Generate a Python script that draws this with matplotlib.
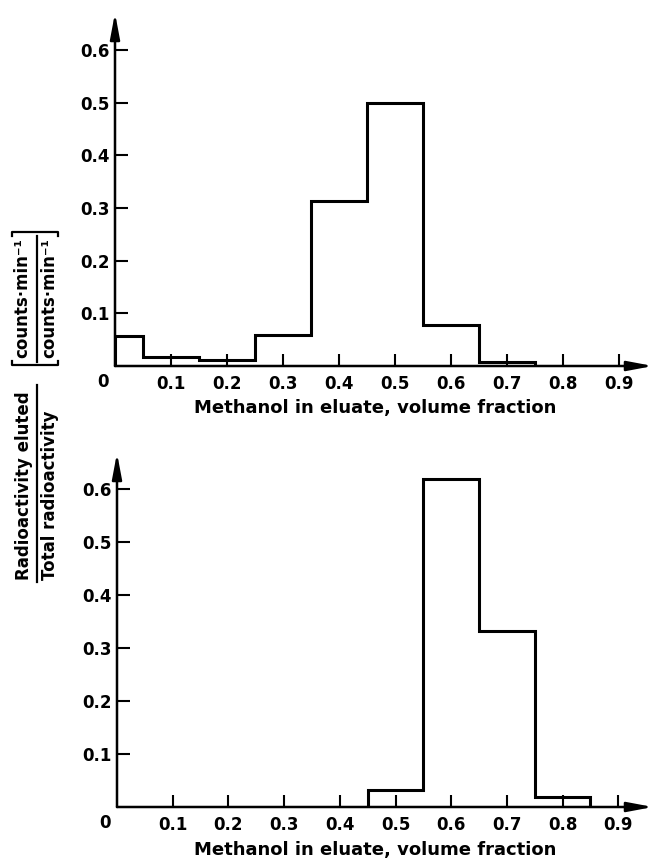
import matplotlib
matplotlib.use("Agg")
import matplotlib.pyplot as plt
from matplotlib.lines import Line2D

# ---- data ----
top_edges = [0.0, 0.05, 0.15, 0.25, 0.35, 0.45, 0.55, 0.65, 0.75]
top_values = [0.057, 0.018, 0.012, 0.058, 0.313, 0.500, 0.077, 0.007]

bot_edges = [0.45, 0.55, 0.65, 0.75, 0.85]
bot_values = [0.032, 0.618, 0.333, 0.019]

x_ticks = [0.1, 0.2, 0.3, 0.4, 0.5, 0.6, 0.7, 0.8, 0.9]
x_tick_labels = ["0.1", "0.2", "0.3", "0.4", "0.5", "0.6", "0.7", "0.8", "0.9"]
y_ticks = [0.1, 0.2, 0.3, 0.4, 0.5, 0.6]
y_tick_labels = ["0.1", "0.2", "0.3", "0.4", "0.5", "0.6"]

x_label = "Methanol in eluate, volume fraction"
y_num = "Radioactivity eluted"
y_den = "Total radioactivity"
unit = "counts·min⁻¹"

W, H = 654, 858
plt.rcParams['font.family'] = ['DejaVu Sans']
plt.rcParams['font.weight'] = 'bold'
fig = plt.figure(figsize=(W / 100, H / 100), dpi=100)

def fx(px):
    return px / W

def fy(py):
    return 1 - py / H

TICK_FS = 12

def make_axes(left, right, top, bottom, xmax, ymax):
    ax = fig.add_axes([fx(left), fy(bottom), (right - left) / W, (bottom - top) / H])
    ax.set_xlim(0, xmax)
    ax.set_ylim(0, ymax)
    for s in ax.spines.values():
        s.set_visible(False)
    ax.set_xticks(x_ticks)
    ax.set_xticklabels(x_tick_labels)
    ax.set_yticks(y_ticks)
    ax.set_yticklabels(y_tick_labels)
    ax.tick_params(axis='x', direction='in', length=8.5, width=1.5, pad=6.5,
                   labelsize=TICK_FS)
    ax.tick_params(axis='y', direction='in', length=9.5, width=1.5, pad=4,
                   labelsize=TICK_FS)
    for lab in ax.get_xticklabels() + ax.get_yticklabels():
        lab.set_fontweight('bold')
    arrow = dict(arrowstyle='-|>,head_length=0.85,head_width=0.16', lw=1.8,
                 color='k', mutation_scale=18, shrinkA=0, shrinkB=0)
    ax.annotate('', xy=(1, 0), xytext=(0, 0), xycoords='axes fraction',
                arrowprops=arrow, annotation_clip=False)
    ax.annotate('', xy=(0, 1), xytext=(0, 0), xycoords='axes fraction',
                arrowprops=arrow, annotation_clip=False)
    ax.annotate('0', xy=(0, 0), xycoords='data', xytext=(-8.5, -11.5),
                textcoords='offset points', ha='center', va='center',
                fontsize=TICK_FS, fontweight='bold', annotation_clip=False)
    return ax

ax1 = make_axes(115, 653, 13, 366, 538 / 560, 353 / 527)
ax1.stairs(top_values, top_edges, baseline=0, color='k', lw=2.2)

ax2 = make_axes(117, 653, 453, 807, 536 / 557, 354 / 530)
ax2.stairs(bot_values, bot_edges, baseline=0, color='k', lw=2.2)

fig.text(fx(375), fy(408), x_label, ha='center', va='center', fontsize=13,
         fontweight='bold')
fig.text(fx(375), fy(850), x_label, ha='center', va='center', fontsize=13,
         fontweight='bold')

# ---- y label: fraction ----
fs = 12
fig.text(fx(24), fy(580), y_num, rotation=90, rotation_mode='anchor',
         ha='left', va='center', fontsize=fs, fontweight='bold')
fig.text(fx(50), fy(580), y_den, rotation=90, rotation_mode='anchor',
         ha='left', va='center', fontsize=fs, fontweight='bold')
fig.add_artist(Line2D([fx(36.5), fx(36.5)], [fy(582), fy(385)], color='k',
                      lw=1.6, transform=fig.transFigure))

# bracketed unit fraction
fig.text(fx(22), fy(298), unit, rotation=90, rotation_mode='anchor',
         ha='center', va='center', fontsize=fs, fontweight='bold')
fig.text(fx(49), fy(298), unit, rotation=90, rotation_mode='anchor',
         ha='center', va='center', fontsize=fs, fontweight='bold')
fig.add_artist(Line2D([fx(36.5), fx(36.5)], [fy(362), fy(236)], color='k',
                      lw=1.6, transform=fig.transFigure))
for yb, d in ((365, -4), (232, 4)):
    fig.add_artist(Line2D([fx(12), fx(12), fx(58), fx(58)],
                          [fy(yb + d), fy(yb), fy(yb), fy(yb + d)],
                          color='k', lw=1.6, transform=fig.transFigure))

fig.savefig("out.png", dpi=100)
